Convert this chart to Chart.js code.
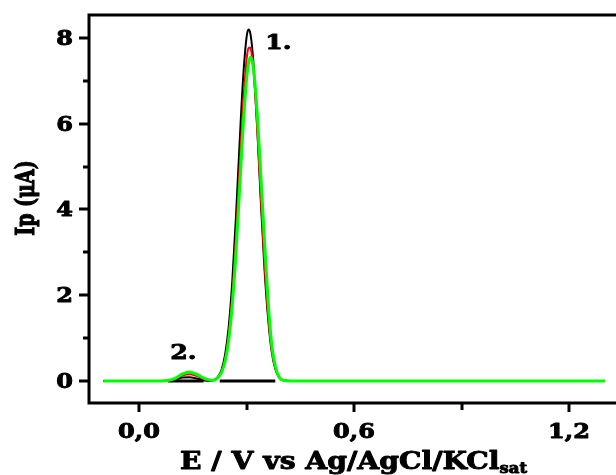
<!DOCTYPE html>
<html>
<head>
<meta charset="utf-8">
<script src="https://cdn.jsdelivr.net/npm/chart.js@4/dist/chart.umd.min.js"></script>
<style>
  html, body { margin: 0; padding: 0; background: #fff; overflow: hidden; width: 616px; height: 475px; }
  canvas { display: block; }
</style>
</head>
<body>
<canvas id="c" width="640" height="475"></canvas>
<script>
// ---- data ----
const potential = [-0.10, 0.00, 0.06, 0.08, 0.10, 0.12, 0.14, 0.16, 0.18, 0.20, 0.21, 0.22, 0.23, 0.24, 0.25, 0.26, 0.27, 0.28, 0.29, 0.30, 0.305, 0.31, 0.315, 0.32, 0.33, 0.34, 0.35, 0.36, 0.37, 0.38, 0.39, 0.40, 0.42, 0.60, 1.00, 1.30];
const currentBlack = [0, 0, 0, 0, 0.03, 0.08, 0.09, 0.06, 0.02, 0, 0.03, 0.10, 0.26, 0.62, 1.27, 2.33, 3.80, 5.49, 7.04, 8.03, 8.20, 8.12, 7.81, 7.30, 5.82, 4.12, 2.59, 1.45, 0.68, 0.28, 0.09, 0.02, 0, 0, 0, 0];
const currentRed   = [0, 0, 0, 0.01, 0.05, 0.13, 0.16, 0.12, 0.05, 0.01, 0.02, 0.08, 0.21, 0.50, 1.06, 1.98, 3.31, 4.89, 6.43, 7.51, 7.76, 7.78, 7.57, 7.16, 5.85, 4.24, 2.73, 1.56, 0.75, 0.32, 0.11, 0.03, 0, 0, 0, 0];
const currentGreen = [0, 0, 0, 0.01, 0.06, 0.16, 0.21, 0.16, 0.07, 0.02, 0.02, 0.08, 0.20, 0.46, 0.96, 1.78, 2.97, 4.43, 5.91, 7.06, 7.40, 7.55, 7.48, 7.22, 6.18, 4.73, 3.24, 1.85, 0.85, 0.35, 0.10, 0.02, 0, 0, 0, 0];
// black baseline segments under the peaks (start, end potentials)
const baselineStart = [0.08, 0.225];
const baselineEnd   = [0.18, 0.38];
// peak labels
const peakLabels = ['1.', '2.'];
const peakLabelX = [0.352, 0.087];
const peakLabelY = [7.86, 0.65];
// ticks
const xTickValues = [0, 0.3, 0.6, 0.9, 1.2];
const xTickLabels = ['0,0', '', '0,6', '', '1,2'];
const yTickValues = [0, 1, 2, 3, 4, 5, 6, 7, 8];
const yTickLabels = ['0', '', '2', '', '4', '', '6', '', '8'];

const toPts = (ys) => potential.map((x, i) => ({ x: x, y: ys[i] }));
const baselinePts = [];
baselineStart.forEach((s, i) => {
  baselinePts.push({ x: s, y: 0 }, { x: baselineEnd[i], y: 0 }, { x: baselineEnd[i], y: null });
});

const FONT = '"DejaVu Serif", "Liberation Serif", serif';

function drawStretched(ctx, text, x, y, align, baseline, sx, font) {
  ctx.save();
  ctx.font = font;
  ctx.textAlign = align;
  ctx.textBaseline = baseline;
  ctx.translate(x, y);
  ctx.scale(sx, 1);
  ctx.lineWidth = 0.9;
  ctx.lineJoin = 'round';
  ctx.fillText(text, 0, 0);
  ctx.strokeText(text, 0, 0);
  ctx.restore();
}

const framePlugin = {
  id: 'frame',
  afterDraw(chart) {
    const ctx = chart.ctx;
    const a = chart.chartArea;
    const xs = chart.scales.x, ys = chart.scales.y;
    ctx.save();
    ctx.strokeStyle = '#000';
    ctx.fillStyle = '#000';
    ctx.lineWidth = 3;
    ctx.strokeRect(a.left, a.top, a.right - a.left, a.bottom - a.top);
    // tick marks (outside) and tick labels
    const tickFont = 'bold 20px ' + FONT;
    xTickValues.forEach((v, i) => {
      const px = Math.round(xs.getPixelForValue(v));
      const len = xTickLabels[i] ? 9 : 7;
      ctx.lineWidth = 3;
      ctx.beginPath(); ctx.moveTo(px, a.bottom); ctx.lineTo(px, a.bottom + len); ctx.stroke();
      if (xTickLabels[i]) drawStretched(ctx, xTickLabels[i], px, 438, 'center', 'alphabetic', 1.2, tickFont);
    });
    yTickValues.forEach((v, i) => {
      const py = Math.round(ys.getPixelForValue(v));
      const len = yTickLabels[i] ? 10 : 6;
      ctx.lineWidth = 3;
      ctx.beginPath(); ctx.moveTo(a.left, py); ctx.lineTo(a.left - len, py); ctx.stroke();
      if (yTickLabels[i]) drawStretched(ctx, yTickLabels[i], 73, py + 7, 'right', 'alphabetic', 1.2, tickFont);
    });
    // peak labels
    peakLabels.forEach((t, i) => {
      drawStretched(ctx, t, xs.getPixelForValue(peakLabelX[i]), ys.getPixelForValue(peakLabelY[i]), 'left', 'middle', 1.2, 'bold 21px ' + FONT);
    });
    // y title (rotated; thickened across)
    ctx.save();
    ctx.translate(27, 198);
    ctx.rotate(-Math.PI / 2);
    ctx.scale(1, 1.35);
    ctx.textAlign = 'center';
    ctx.textBaseline = 'middle';
    ctx.font = 'bold 19px ' + FONT;
    ctx.lineWidth = 0.8;
    ctx.fillText('Ip (\u03BCA)', 0, 0);
    ctx.strokeText('Ip (\u03BCA)', 0, 0);
    ctx.restore();
    // x title with subscript
    ctx.save();
    const main = 'E / V vs Ag/AgCl/KCl';
    ctx.font = 'bold 24px ' + FONT;
    const w = ctx.measureText(main).width;
    ctx.font = 'bold 14px ' + FONT;
    const ws = ctx.measureText('sat').width;
    const sx = 347 / (w + ws);
    ctx.translate(180, 469);
    ctx.scale(sx, 1);
    ctx.textAlign = 'left';
    ctx.textBaseline = 'alphabetic';
    ctx.lineWidth = 0.9;
    ctx.lineJoin = 'round';
    ctx.font = 'bold 24px ' + FONT;
    ctx.fillText(main, 0, 0);
    ctx.strokeText(main, 0, 0);
    ctx.font = 'bold 14px ' + FONT;
    ctx.fillText('sat', w, 4);
    ctx.strokeText('sat', w, 4);
    ctx.restore();
    ctx.restore();
  }
};

new Chart(document.getElementById('c'), {
  type: 'line',
  data: {
    datasets: [
      { label: 'green', data: toPts(currentGreen), borderColor: '#00ff00', borderWidth: 3, order: 1 },
      { label: 'red', data: toPts(currentRed), borderColor: '#ff0000', borderWidth: 2, order: 2 },
      { label: 'black', data: toPts(currentBlack), borderColor: '#000000', borderWidth: 2, order: 3 },
      { label: 'baseline', data: baselinePts, borderColor: '#000000', borderWidth: 3, order: 4, spanGaps: false }
    ]
  },
  options: {
    responsive: false,
    animation: false,
    devicePixelRatio: 1,
    layout: { padding: { top: 15, right: 10, left: 0, bottom: 0 } },
    elements: {
      point: { radius: 0 },
      line: { cubicInterpolationMode: 'monotone', fill: false, borderCapStyle: 'butt' }
    },
    plugins: { legend: { display: false }, tooltip: { enabled: false }, title: { display: false } },
    scales: {
      x: {
        type: 'linear',
        min: -0.14,
        max: 1.37,
        grid: { display: false },
        border: { display: false },
        afterBuildTicks: (s) => { s.ticks = xTickValues.map(v => ({ value: v })); },
        afterFit: (s) => { s.height = 72; s.paddingLeft = 0; s.paddingRight = 0; },
        ticks: { display: false }
      },
      y: {
        type: 'linear',
        min: -0.513,
        max: 8.536,
        grid: { display: false },
        border: { display: false },
        afterBuildTicks: (s) => { s.ticks = yTickValues.map(v => ({ value: v })); },
        afterFit: (s) => { s.width = 89; s.paddingTop = 0; s.paddingBottom = 0; },
        ticks: { display: false }
      }
    }
  },
  plugins: [framePlugin]
});
</script>
</body>
</html>
